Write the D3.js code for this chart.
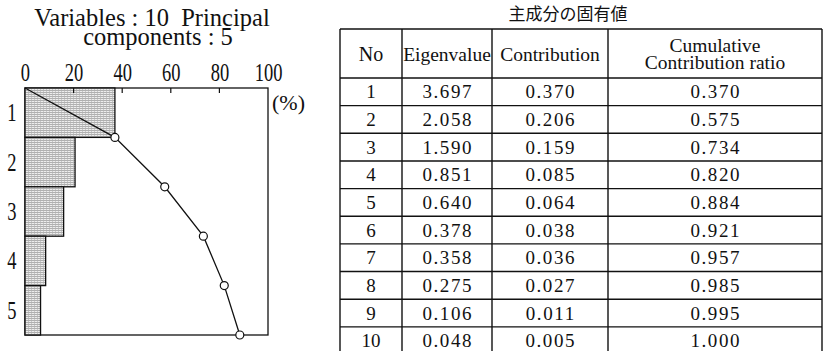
<!DOCTYPE html>
<html>
<head>
<meta charset="utf-8">
<script src="https://cdn.jsdelivr.net/npm/d3@7"></script>
<style>
  html, body { margin: 0; padding: 0; background: #fff; }
  svg { display: block; }
  .serif { font-family: "Liberation Serif", "DejaVu Serif", serif; fill: #111; white-space: pre; }
  .gothic { font-family: "Noto Sans CJK JP", "Noto Sans", sans-serif; fill: #111; }
</style>
</head>
<body>
<svg id="chart" width="828" height="351"></svg>
<script>
// Principal component analysis: eigenvalues of the 10 variables
const components    = [1, 2, 3, 4, 5, 6, 7, 8, 9, 10];
const eigenvalues   = [3.697, 2.058, 1.590, 0.851, 0.640, 0.378, 0.358, 0.275, 0.106, 0.048];
const contributions = [0.370, 0.206, 0.159, 0.085, 0.064, 0.038, 0.036, 0.027, 0.011, 0.005];
const cumulative    = [0.370, 0.575, 0.734, 0.820, 0.884, 0.921, 0.957, 0.985, 0.995, 1.000];
const percentTicks  = [0, 20, 40, 60, 80, 100];
const shownComponents = 5;

const tableTitle = "主成分の固有値";
const headers = [["No"], ["Eigenvalue"], ["Contribution"], ["Cumulative", "Contribution ratio"]];
const chartTitle = ["Variables : 10  Principal", "components : 5"];

const svg = d3.select("#chart");
const fmt = d3.format(".3f");

// ---------- left: contribution bars and cumulative curve ----------
const plot = { left: 25, right: 268, top: 88, bottom: 335 };
const x = d3.scaleLinear().domain([0, 100]).range([plot.left, plot.right]);
const pcs = components.slice(0, shownComponents);
const y = d3.scaleBand().domain(pcs).range([plot.top, plot.bottom]).padding(0);

// stippled fill for bars
const defs = svg.append("defs");
const pat = defs.append("pattern")
  .attr("id", "stipple").attr("patternUnits", "userSpaceOnUse")
  .attr("width", 3).attr("height", 2);
pat.append("rect").attr("width", 3).attr("height", 2).attr("fill", "#ededed");
pat.append("rect").attr("width", 3).attr("height", 1).attr("fill", "#b0b0b0");
pat.append("rect").attr("x", 1).attr("y", 1).attr("width", 1).attr("height", 1).attr("fill", "#c8c8c8");

// title
svg.append("text").attr("class", "serif")
  .attr("font-size", 24.5).attr("text-anchor", "middle")
  .selectAll("tspan").data(chartTitle).join("tspan")
  .attr("x", (d, i) => i === 0 ? 152 : 158)
  .attr("y", (d, i) => 26 + i * 19)
  .text(d => d);

// top axis labels (condensed digits)
const axis = d3.axisTop(x).tickValues(percentTicks).tickSize(0).tickPadding(7).tickFormat(d3.format("d"));
const gAxis = svg.append("g").attr("transform", `translate(0,${plot.top})`).call(axis);
gAxis.select(".domain").remove();
gAxis.selectAll(".tick text")
  .attr("class", "serif")
  .attr("font-size", 25)
  .attr("fill", "#111")
  .attr("transform", "scale(0.74,1)");

// frame
svg.append("rect")
  .attr("x", plot.left).attr("y", plot.top)
  .attr("width", plot.right - plot.left).attr("height", plot.bottom - plot.top)
  .attr("fill", "none").attr("stroke", "#111").attr("stroke-width", 1.3);

// bars
svg.append("g").selectAll("rect").data(pcs).join("rect")
  .attr("x", x(0))
  .attr("y", d => y(d))
  .attr("width", d => x(contributions[d - 1] * 100) - x(0))
  .attr("height", y.bandwidth())
  .attr("fill", "url(#stipple)")
  .attr("stroke", "#111").attr("stroke-width", 1.3);

// inward tick marks on top edge
svg.append("g").selectAll("line").data(percentTicks.slice(1, -1)).join("line")
  .attr("x1", d => x(d)).attr("x2", d => x(d))
  .attr("y1", plot.top).attr("y2", plot.top + 5)
  .attr("stroke", "#111").attr("stroke-width", 1.2);

// component labels
svg.append("g").selectAll("text").data(pcs).join("text")
  .attr("class", "serif")
  .attr("font-size", 25)
  .attr("text-anchor", "middle")
  .attr("transform", d => `translate(12,${y(d) + y.bandwidth() / 2 + 8.5}) scale(0.74,1)`)
  .text(d => d);

// cumulative curve
const pts = [[x(0), plot.top]].concat(
  pcs.map(d => [x(cumulative[d - 1] * 100), y(d) + y.bandwidth()])
);
svg.append("path")
  .attr("d", d3.line()(pts))
  .attr("fill", "none").attr("stroke", "#111").attr("stroke-width", 1.3);
svg.append("g").selectAll("circle").data(pts.slice(1)).join("circle")
  .attr("cx", d => d[0]).attr("cy", d => d[1]).attr("r", 4)
  .attr("fill", "#fff").attr("stroke", "#111").attr("stroke-width", 1.2);

// unit
svg.append("text").attr("class", "serif")
  .attr("x", 272).attr("y", 110).attr("font-size", 22)
  .text("(%)");

// ---------- right: eigenvalue table ----------
const colEdges = [340, 402, 492, 608, 822];
const tTop = 29, headBottom = 78, rowH = 27.65;
const rowTop = i => headBottom + i * rowH;
const tBottom = rowTop(components.length);

svg.append("text").attr("class", "gothic")
  .attr("x", 568).attr("y", 20).attr("font-size", 17).attr("text-anchor", "middle")
  .text(tableTitle);

const grid = svg.append("g").attr("stroke", "#111").attr("stroke-width", 1.4);
grid.selectAll("line.v").data(colEdges).join("line").attr("class", "v")
  .attr("x1", d => d).attr("x2", d => d).attr("y1", tTop).attr("y2", tBottom);
grid.selectAll("line.h").data(d3.range(components.length + 2)).join("line").attr("class", "h")
  .attr("x1", colEdges[0]).attr("x2", colEdges[colEdges.length - 1])
  .attr("y1", i => i === 0 ? tTop : rowTop(i - 1))
  .attr("y2", i => i === 0 ? tTop : rowTop(i - 1));

const colCenter = i => (colEdges[i] + colEdges[i + 1]) / 2;

// header cells
headers.forEach((lines, c) => {
  const t = svg.append("text").attr("class", "serif")
    .attr("font-size", c === 0 ? 20 : 19.5).attr("text-anchor", "middle");
  const mid = (tTop + headBottom) / 2;
  lines.forEach((s, k) => {
    t.append("tspan")
      .attr("x", colCenter(c))
      .attr("y", mid + 7 + (k - (lines.length - 1) / 2) * 17)
      .text(s);
  });
});

// body cells
const columns = [
  components.map(String),
  eigenvalues.map(fmt),
  contributions.map(fmt),
  cumulative.map(fmt)
];
columns.forEach((vals, c) => {
  svg.append("g").selectAll("text").data(vals).join("text")
    .attr("class", "serif")
    .attr("font-size", 19)
    .attr("text-anchor", "middle")
    .attr("letter-spacing", c === 0 ? 0 : 1.6)
    .attr("x", colCenter(c) + (c === 0 ? 0 : 0.8))
    .attr("y", (d, i) => rowTop(i) + rowH / 2 + 6.5)
    .text(d => d);
});
</script>
</body>
</html>
